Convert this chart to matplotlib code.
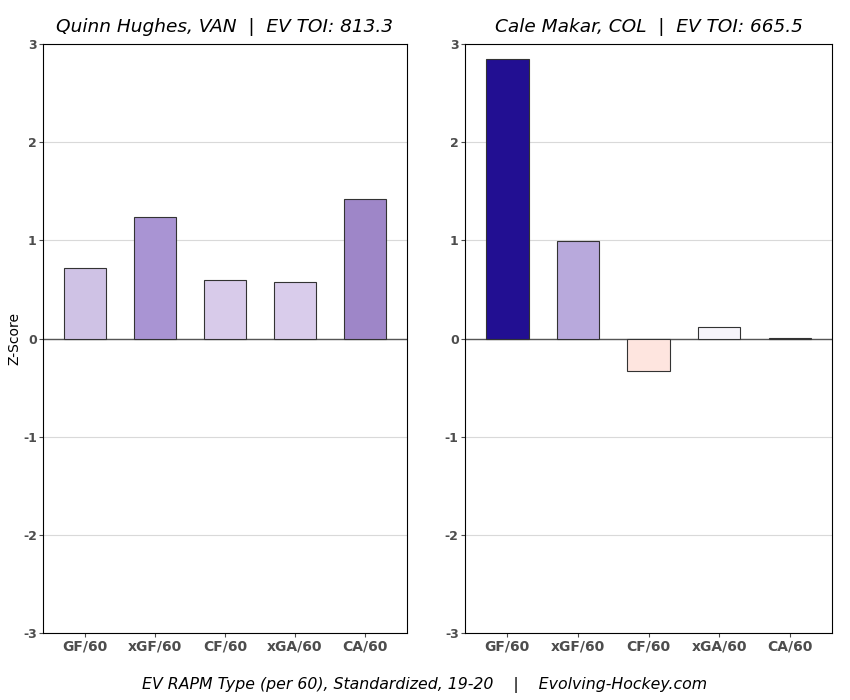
import matplotlib
matplotlib.use("Agg")
import matplotlib.pyplot as plt

categories = ["GF/60", "xGF/60", "CF/60", "xGA/60", "CA/60"]
hughes_vals = [0.72, 1.24, 0.60, 0.58, 1.42]
makar_vals = [2.85, 0.99, -0.33, 0.12, 0.01]
hughes_colors = ["#cfc2e5", "#a994d3", "#d8cbea", "#d9cceb", "#9e86c8"]
makar_colors = ["#220f92", "#b8a9dc", "#fee5df", "#f6f4fa", "#f2f0f8"]
titles = ["Quinn Hughes, VAN  |  EV TOI: 813.3", "Cale Makar, COL  |  EV TOI: 665.5"]
yticks = [-3, -2, -1, 0, 1, 2, 3]

fig = plt.figure(figsize=(8.5, 7), dpi=100)
ax1 = fig.add_axes([0.0506, 0.0957, 0.4282, 0.8413])
ax2 = fig.add_axes([0.547, 0.0957, 0.432, 0.8413])

for ax, vals, cols, title in [(ax1, hughes_vals, hughes_colors, titles[0]),
                              (ax2, makar_vals, makar_colors, titles[1])]:
    x = list(range(len(categories)))
    ax.set_axisbelow(True)
    ax.grid(axis="y", color="#d9d9d9", linewidth=0.8)
    ax.axhline(0, color="#555555", linewidth=1.0, zorder=1)
    ax.bar(x, vals, width=0.6, color=cols, edgecolor="#333333", linewidth=0.8, zorder=2)
    ax.set_xlim(-0.6, 4.6)
    ax.set_ylim(-3, 3)
    ax.set_xticks(x)
    ax.set_xticklabels(categories)
    ax.set_yticks(yticks)
    ax.set_yticklabels([str(t) for t in yticks])
    for lab in ax.get_xticklabels() + ax.get_yticklabels():
        lab.set_fontweight("bold")
        lab.set_color("#4d4d4d")
    ax.tick_params(axis="x", labelsize=10, colors="#4d4d4d", length=3, pad=2)
    ax.tick_params(axis="y", labelsize=9, colors="#4d4d4d", length=3, pad=1.5)
    for s in ax.spines.values():
        s.set_color("black")
        s.set_linewidth(0.8)
    ax.set_title(title, fontsize=13.3, style="italic", pad=9)

ax1.set_ylabel("Z-Score", fontsize=10, labelpad=1)
fig.text(0.5, 0.022, "EV RAPM Type (per 60), Standardized, 19-20    |    Evolving-Hockey.com",
         ha="center", va="center", fontsize=11.3, style="italic")

fig.savefig("out.png", dpi=100)
